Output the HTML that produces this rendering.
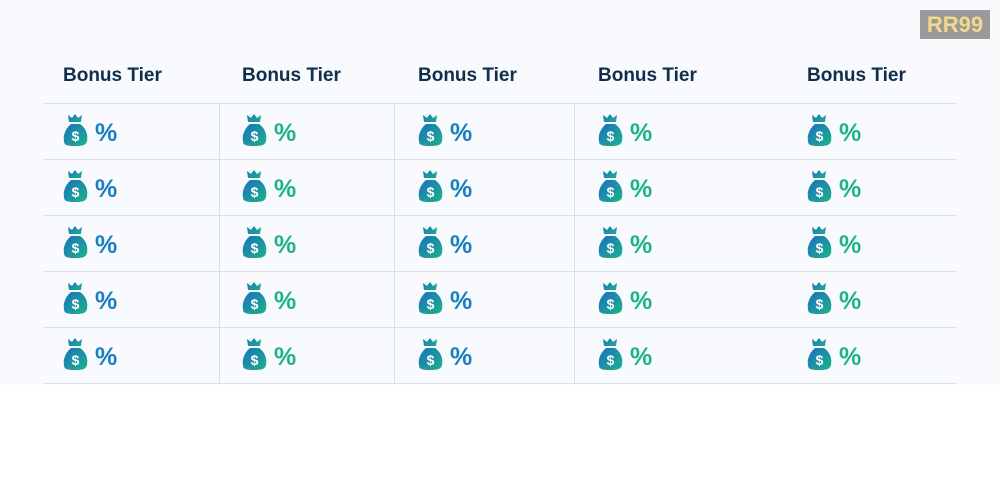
<!DOCTYPE html>
<html><head><style>
body{margin:0;width:1000px;height:500px;background:#fff;font-family:"Liberation Sans",sans-serif;position:relative;overflow:hidden}
.bg{position:absolute;left:0;top:0;width:1000px;height:385px;background:#f8fafd}
.h{position:absolute;top:65px;font-size:19px;font-weight:bold;color:#0f2e4c}
.hl{position:absolute;left:43px;width:914px;height:1px;background:#d8e0ea}
.vl{position:absolute;top:103px;height:280px;width:1px;background:#d8e0ea}
.c{position:absolute;height:34px}
.c svg{position:absolute;left:0;top:0}
.c span{position:absolute;left:32px;top:5px;font-size:25px;font-weight:bold}
.logo{position:absolute;left:920px;top:10px;width:70px;height:29px;background:#9a9a9a;color:#f4d98a;font-weight:bold;font-size:22px;line-height:29px;text-align:center}
</style></head><body>
<div class="bg"></div>
<div class="logo">RR99</div>
<div class="h" style="left:63px">Bonus Tier</div>
<div class="h" style="left:242px">Bonus Tier</div>
<div class="h" style="left:418px">Bonus Tier</div>
<div class="h" style="left:598px">Bonus Tier</div>
<div class="h" style="left:807px">Bonus Tier</div>
<div class="hl" style="top:103px"></div><div class="hl" style="top:159px"></div><div class="hl" style="top:215px"></div><div class="hl" style="top:271px"></div><div class="hl" style="top:327px"></div><div class="hl" style="top:383px"></div>
<div class="vl" style="left:219px"></div><div class="vl" style="left:394px"></div><div class="vl" style="left:574px"></div>
<svg width="0" height="0" style="position:absolute"><defs><linearGradient id="g" x1="0" y1="0" x2="1" y2="1"><stop offset="0" stop-color="#1a6fc0"/><stop offset="1" stop-color="#1db38a"/></linearGradient></defs></svg>
<div id="grid"></div>
<script>
var xs=[63,242,418,598,807],cols=['#1a7fc1','#1db38a','#1a7fc1','#1db38a','#1db38a'],h='';
for(var r=0;r<5;r++)for(var c=0;c<5;c++){var y=114+r*56;
h+='<div class="c" style="left:'+xs[c]+'px;top:'+y+'px"><svg width="26" height="34" viewBox="0 0 26 34"><path d="M5 1 L9 4 L12 0 L15 4 L19 1 L18 8 L6 8Z" fill="url(#g)"/><path d="M8 10 L17 10 C24 15 25 22 24 27 C23 31 20 32 12 32 C4 32 1 31 1 27 C0 22 2 15 8 10Z" fill="url(#g)"/><text x="12.5" y="27" font-size="14" font-weight="bold" fill="#fff" text-anchor="middle" font-family="Liberation Sans">$</text></svg><span style="color:'+cols[c]+'">%</span></div>';}
document.getElementById('grid').innerHTML=h;
</script>
</body></html>
